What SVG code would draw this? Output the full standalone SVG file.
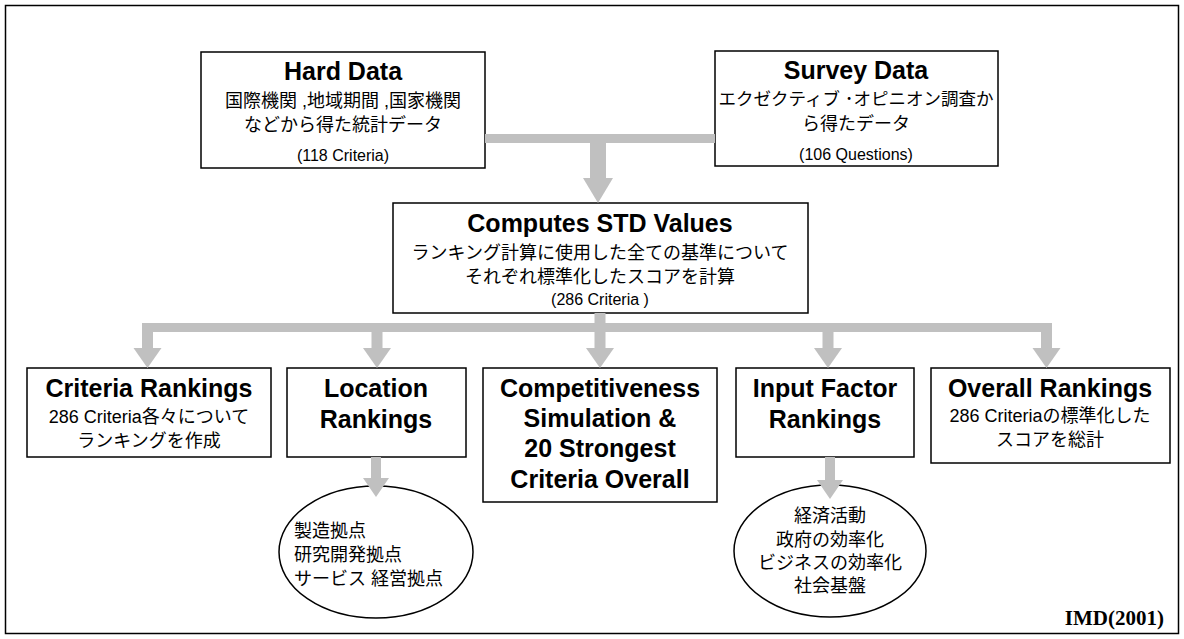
<svg xmlns="http://www.w3.org/2000/svg" width="1184" height="639" viewBox="0 0 1184 639">
<style>
.box{fill:#fff;stroke:#000;stroke-width:1.5}
.bar{fill:#c0c0c0}
.h{font-family:"Liberation Sans",Arial,sans-serif;font-weight:bold;font-size:25px;text-anchor:middle;fill:#000}
.j{font-family:"Liberation Sans","Noto Sans CJK JP",sans-serif;font-size:18px;text-anchor:middle;fill:#000}
.jl{font-family:"Liberation Sans","Noto Sans CJK JP",sans-serif;font-size:18px;fill:#000}
.p{font-family:"Liberation Sans",Arial,sans-serif;font-size:16px;text-anchor:middle;fill:#000}
.src{font-family:"Liberation Serif","Times New Roman",serif;font-weight:bold;font-size:21px;text-anchor:end;fill:#000}
</style>
<defs>
<path id="ah" d="M-14,0 L14,0 L0,20 Z" class="bar"/>
<path id="ah2" d="M-13,0 L13,0 L0,19 Z" class="bar"/>
</defs>
<rect x="5.5" y="5.5" width="1173" height="628" fill="#fff" stroke="#000" stroke-width="1.5"/>
<g id="hard-data">
<rect class="box" x="201" y="52" width="284" height="116"/>
<text class="h" x="343" y="80">Hard Data</text>
<text class="j" x="343" y="107">国際機関 ,地域期間 ,国家機関</text>
<text class="j" x="343" y="131">などから得た統計データ</text>
<text class="p" x="343" y="161">(118 Criteria)</text>
</g>
<g id="survey-data">
<rect class="box" x="715" y="51" width="283" height="115"/>
<text class="h" x="856" y="79">Survey Data</text>
<text class="j" x="856" y="105" style="font-size:17.5px">エクゼクティブ ･オピニオン調査か</text>
<text class="j" x="856" y="130">ら得たデータ</text>
<text class="p" x="856" y="160">(106 Questions)</text>
</g>
<g id="compute">
<rect class="box" x="393" y="203" width="415" height="110"/>
<text class="h" x="600" y="232">Computes STD Values</text>
<text class="j" x="600" y="259">ランキング計算に使用した全ての基準について</text>
<text class="j" x="600" y="283">それぞれ標準化したスコアを計算</text>
<text class="p" x="600" y="305">(286 Criteria )</text>
</g>
<g id="criteria-rankings">
<rect class="box" x="27" y="368" width="244" height="89"/>
<text class="h" x="149" y="397">Criteria Rankings</text>
<text class="j" x="149" y="423">286 Criteria各々について</text>
<text class="j" x="149" y="447">ランキングを作成</text>
</g>
<g id="location-rankings">
<rect class="box" x="287" y="368" width="179" height="89"/>
<text class="h" x="376" y="397">Location</text>
<text class="h" x="376" y="428">Rankings</text>
</g>
<g id="competitiveness">
<rect class="box" x="483" y="368" width="234" height="134"/>
<text class="h" x="600" y="397">Competitiveness</text>
<text class="h" x="600" y="427">Simulation &amp;</text>
<text class="h" x="600" y="457">20 Strongest</text>
<text class="h" x="600" y="488">Criteria Overall</text>
</g>
<g id="input-factor">
<rect class="box" x="736" y="368" width="178" height="89"/>
<text class="h" x="825" y="397">Input Factor</text>
<text class="h" x="825" y="428">Rankings</text>
</g>
<g id="overall-rankings">
<rect class="box" x="931" y="368" width="239" height="95"/>
<text class="h" x="1050" y="397">Overall Rankings</text>
<text class="j" x="1050" y="422">286 Criteriaの標準化した</text>
<text class="j" x="1050" y="446">スコアを総計</text>
</g>
<g id="location-ellipse">
<ellipse class="box" cx="376" cy="552" rx="97" ry="66"/>
<text class="jl" x="294" y="537">製造拠点</text>
<text class="jl" x="294" y="561">研究開発拠点</text>
<text class="jl" x="294" y="585">サービス 経営拠点</text>
</g>
<g id="input-ellipse">
<ellipse class="box" cx="830" cy="551" rx="96" ry="66"/>
<text class="j" x="830" y="522">経済活動</text>
<text class="j" x="830" y="546">政府の効率化</text>
<text class="j" x="830" y="569">ビジネスの効率化</text>
<text class="j" x="830" y="592">社会基盤</text>
</g>
<g id="connectors">
<rect class="bar" x="485" y="134" width="230" height="9"/>
<rect class="bar" x="590" y="134" width="16" height="46"/>
<path class="bar" d="M583,178 L613,178 L598,203 Z"/>
<rect class="bar" x="594.5" y="313" width="11" height="12"/>
<rect class="bar" x="142" y="323" width="910" height="9"/>
<rect class="bar" x="142" y="323" width="11" height="27"/>
<use href="#ah" x="147.5" y="348"/>
<rect class="bar" x="371.5" y="323" width="11" height="27"/>
<use href="#ah" x="377" y="348"/>
<rect class="bar" x="594.5" y="323" width="11" height="27"/>
<use href="#ah" x="600" y="348"/>
<rect class="bar" x="822.5" y="323" width="11" height="27"/>
<use href="#ah" x="828" y="348"/>
<rect class="bar" x="1041" y="323" width="11" height="27"/>
<use href="#ah" x="1046.5" y="348"/>
<rect class="bar" x="371" y="457" width="10" height="23"/>
<use href="#ah2" x="376" y="478"/>
<rect class="bar" x="825" y="457" width="10" height="25"/>
<use href="#ah2" x="830" y="480"/>
</g>
<text class="src" x="1164" y="625">IMD(2001)</text>
</svg>
